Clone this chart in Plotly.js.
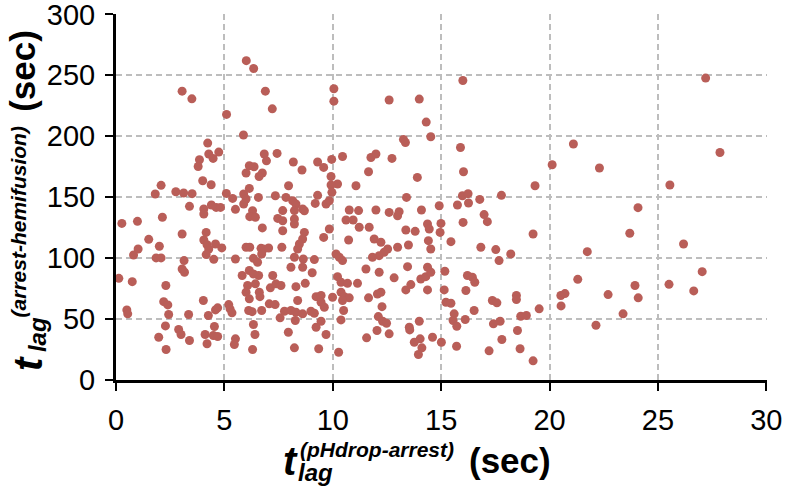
<!DOCTYPE html>
<html>
<head>
<meta charset="utf-8">
<script src="https://cdn.plot.ly/plotly-3.0.1.min.js"></script>
<style>
  html, body { margin: 0; padding: 0; background: #fff; }
  #myPlot { width: 787px; height: 488px; }
</style>
</head>
<body>
<div id="myPlot"></div>
<script>
// t_lag (pHdrop-arrest), sec
const xLag = [
  6.01, 6.35, 3.05, 3.5, 6.89, 7.21, 5.1, 10.05, 10.05, 5.88, 4.23,
  12.6, 13.99, 14.31, 14.52, 13.26, 13.35, 16.0, 15.89, 10.45, 9.95, 11.76, 11.99, 12.73, 11.65,
  13.9, 11.07, 10.22, 13.4, 16.03, 19.33, 20.12, 15.98, 16.24, 16.78, 17.78,
  27.2, 21.1, 22.3, 27.86, 25.55,
  4.28, 4.74, 4.48, 3.85, 3.79, 4.0, 4.39, 2.08, 1.81, 2.76, 3.12, 3.51, 5.09, 5.38, 3.39,
  5.89, 6.0, 6.15, 6.57, 7.35, 5.89, 5.51, 6.0, 6.15, 6.37, 6.75, 6.6, 6.84, 6.94, 7.43,
  6.3, 6.17, 6.43, 6.75, 7.46, 4.05, 4.05, 4.4, 4.62, 4.82, 4.16, 4.05, 4.2, 4.59, 4.88,
  4.28, 4.16, 4.51, 3.05, 2.14, 0.27, 0.99, 1.51, 2.0, 1.02, 0.81, 1.85, 2.08, 3.14, 5.51,
  6.0, 6.17, 6.69, 6.8, 7.04, 6.72, 6.34, 6.53,
  8.18, 8.58, 9.3, 9.58, 9.92, 9.92, 9.96, 7.96, 9.3, 7.84, 8.15, 8.3, 8.61, 8.69, 9.19,
  9.69, 9.84, 7.69, 7.69, 7.69, 7.65, 8.23, 8.23, 8.23, 8.69, 8.61, 8.46, 8.38, 8.23, 8.64,
  9.15, 9.58, 9.84, 10.76, 11.19, 10.61, 10.94, 11.22, 11.68, 10.73, 11.99, 11.91, 12.22, 12.6, 13.06,
  12.99, 14.09, 14.91, 14.37, 14.45, 14.99, 14.95, 13.37, 13.8, 14.41, 14.52, 15.45, 13.49, 12.99, 12.53,
  12.37, 12.14, 11.83, 10.15, 10.3, 10.45,
  0.13, 0.75, 2.3, 3.05, 3.16, 2.2, 2.39, 2.43, 0.5, 0.54, 3.35, 4.03, 4.26, 4.59, 4.69,
  2.28, 1.97, 2.31, 2.89, 3.0, 3.39, 4.11, 4.2, 4.54, 4.49, 4.69, 5.2, 5.26, 5.35, 5.51,
  5.46, 6.34, 6.41, 6.3, 6.12, 6.28, 6.72, 5.82, 6.15, 6.34, 6.58, 6.07, 6.43, 6.0, 6.15,
  6.61, 6.64, 7.23, 7.12, 7.38, 7.61, 7.07, 7.34, 7.57,
  8.07, 8.61, 9.05, 8.3, 8.73, 9.23, 9.46, 9.46, 9.61, 8.38, 7.77, 8.07, 8.3, 8.61, 8.99,
  9.15, 8.27, 9.46, 9.23, 9.69, 7.95, 8.23, 9.35, 10.27, 10.38, 10.5, 10.22, 10.38, 10.68, 11.14,
  9.99, 10.38, 10.53, 10.76, 10.45, 11.65, 11.53, 12.14, 12.83, 12.06, 12.22, 12.27, 12.1, 12.3, 12.48,
  12.04, 12.6, 11.56, 13.45, 14.06, 14.29, 14.52, 14.37, 14.37, 13.37, 13.6, 15.17, 15.14, 15.22, 15.45,
  13.99, 13.53, 13.55, 14.6, 15.01, 14.03, 13.76, 14.11, 13.95,
  15.75, 16.26, 16.01, 16.98, 17.13, 19.24, 16.83, 17.52, 17.67, 18.21, 16.21, 16.44, 16.55, 16.14, 16.52,
  16.11, 15.6, 15.55, 15.72, 15.71, 17.36, 17.57, 18.47, 18.47, 19.52, 18.67, 18.93, 17.41, 17.72, 18.52,
  17.8, 17.21, 18.64, 19.24,
  24.08, 23.7, 21.74, 26.18, 21.3, 20.52, 20.71, 20.53, 22.7, 23.94, 24.09, 23.39, 22.14, 27.04, 25.51, 26.65
];

// t_lag (arrest-hemifusion), sec
const yLag = [
  262, 255.6, 237, 230.7, 237, 222.5, 217.9, 239, 228.8, 201, 194.4,
  229.7, 230.5, 211.6, 199.6, 197.4, 194.9, 245.7, 190.8, 183.4, 181, 182.6, 185.4, 181.8, 170.9,
  166.2, 159.4, 160.8, 149.8, 170.9, 159.4, 176.6, 151.2, 152.9, 148.2, 151.5,
  247.7, 193.6, 173.9, 186.7, 160,
  185.4, 187, 181.8, 180.7, 175.2, 163.5, 160.2, 159.7, 152.6, 154.5, 153.4, 152.9, 153.1, 149, 142.5,
  152.6, 148.5, 157.2, 149.8, 151.2, 144.4, 140, 169.8, 175.8, 175, 169.8, 167, 185.4, 179.8, 185.9,
  138.9, 134, 133.5, 124.8, 132.6, 140.3, 136.2, 143.6, 141.6, 141.6, 121.1, 114.9, 111, 111.6, 108.4,
  107.5, 102.9, 99, 119.8, 133.5, 128.5, 130.2, 115.4, 109.7, 107.5, 102.6, 100.2, 100.2, 98, 99.3,
  108.9, 108.9, 108, 107.5, 108.3, 103.4, 99.8, 96.6,
  178.9, 172.3, 178.9, 174.4, 167, 160, 154, 159.4, 151.5, 149.8, 147.1, 144.4, 140.3, 138.9, 144.9,
  144.4, 147.1, 139, 130.7, 122.5, 108.9, 139, 132.1, 128, 121.1, 115.7, 111.6, 107.5, 100.7, 99.3,
  98.8, 117, 123.9, 139.5, 139, 131.3, 131.3, 125.3, 125.3, 114.9, 139.5, 115.7, 113, 137.5, 138.1,
  134.8, 139.5, 143, 128, 123.9, 128.5, 121.1, 123.1, 122, 114.3, 107.5, 113.5, 110.8, 108.9, 107.5,
  104.8, 102, 100.7, 103.4, 100.7, 98,
  83.4, 80.7, 77.5, 91.1, 88.4, 64.3, 61.6, 53.7, 57.5, 54.3, 53.7, 65.2, 52.9, 57.5, 59.2,
  44.4, 35.1, 25, 41.4, 37.3, 32.4, 37.3, 29.7, 43.9, 36.5, 35.7, 61.9, 58.4, 55.1, 33.8,
  29.1, 45.5, 37.3, 25, 57, 56.1, 57, 85.7, 89.8, 87, 85.7, 77.5, 78.9, 72, 66.6,
  72, 68.4, 85.7, 75.6, 78.9, 77.5, 62.5, 61.9, 51,
  92.5, 92.5, 88, 76.6, 79.3, 68.4, 69.3, 63.8, 59.7, 65.2, 56.4, 57, 55.6, 54.3, 56.4,
  54.8, 48.8, 48.2, 43.3, 37.3, 39.2, 26.4, 25.6, 22.8, 49.3, 57, 84.8, 80.2, 79.3, 79.3,
  67.9, 72, 68.4, 67.4, 65.2, 67.4, 91.1, 88.4, 83.8, 70.6, 72, 60.2, 52, 48.2, 46.6,
  40.6, 37.9, 34.6, 93, 82.9, 84.8, 88.4, 92.5, 73.9, 73.9, 78.3, 89.2, 73.9, 63.8, 63,
  48.2, 43.3, 41.1, 35.1, 31, 33.8, 31, 26.4, 20.9,
  143.6, 145.2, 129.3, 135.7, 129.9, 119.8, 108.9, 107, 98, 103.4, 85.7, 84.3, 80.2, 73.4, 57,
  49.6, 54.3, 48.8, 44.1, 27.7, 65.2, 63.3, 69.3, 66, 58.4, 52.3, 52.9, 46.1, 48.2, 40.6,
  33.2, 23.9, 25.6, 15.7,
  141.4, 120.4, 105.3, 111.6, 82.6, 69.3, 70.9, 60.8, 70.1, 77.5, 67.4, 54.3, 44.9, 88.9, 78.5, 73.1
];

const xTicks = [0, 5, 10, 15, 20, 25, 30];
const yTicks = [0, 50, 100, 150, 200, 250, 300];

const font = "'Liberation Sans', Arial, Helvetica, sans-serif";

// paper coords from pixel positions of the plot box (l=116, t=13, w=651, h=367)
const px = p => (p - 116) / 651;
const py = p => (380 - p) / 367;

const titleParts = [
  // x title
  {text:"<b><i>t</i></b>", x:px(290), y:py(461), size:40, angle:0, xa:"center"},
  {text:"<b><i>lag</i></b>", x:px(297), y:py(473), size:24, angle:0, xa:"left"},
  {text:"<b><i>(pHdrop-arrest)</i></b>", x:px(299), y:py(450), size:21, angle:0, xa:"left"},
  {text:"<b>(sec)</b>", x:px(468), y:py(461), size:35, angle:0, xa:"left"},
  // y title
  {text:"<b><i>t</i></b>", x:px(28), y:py(364), size:40, angle:-90, xa:"center"},
  {text:"<b><i>lag</i></b>", x:px(37), y:py(335), size:24, angle:-90, xa:"center"},
  {text:"<b><i>(arrest-hemifusion)</i></b>", x:px(18), y:py(222), size:21, angle:-90, xa:"center"},
  {text:"<b>(sec)</b>", x:px(23), y:py(70), size:35, angle:-90, xa:"center"}
];

const annotations = titleParts.map(t => ({
  text: t.text, x: t.x, y: t.y, xref: "paper", yref: "paper",
  xanchor: t.xa, yanchor: "middle", textangle: t.angle, showarrow: false,
  borderpad: 0,
  font: {family: font, size: t.size, color: "#000"}
}));

const data = [{
  x: xLag,
  y: yLag,
  type: "scatter",
  mode: "markers",
  marker: {color: "#b95e58", size: 9},
  cliponaxis: false,
  hoverinfo: "x+y"
}];

const axisStyle = {
  showline: true, linecolor: "#000", linewidth: 3,
  ticks: "outside", ticklen: 8, tickwidth: 2, tickcolor: "#000",
  ticklabelstandoff: 4, ticklabeloverflow: "allow",
  showgrid: true, gridcolor: "#bdbdbd", gridwidth: 2, griddash: "6px,4px",
  zeroline: false,
  tickfont: {family: font, size: 29, color: "#000"}
};

const layout = {
  width: 787, height: 488,
  margin: {l: 116, r: 20, t: 14, b: 108},
  paper_bgcolor: "#fff", plot_bgcolor: "#fff",
  showlegend: false,
  xaxis: Object.assign({}, axisStyle, {range: [0, 30.03], tickvals: xTicks}),
  yaxis: Object.assign({}, axisStyle, {range: [0, 300.3], tickvals: yTicks}),
  annotations: annotations
};

Plotly.newPlot("myPlot", data, layout, {displayModeBar: false, staticPlot: true});
</script>
</body>
</html>
